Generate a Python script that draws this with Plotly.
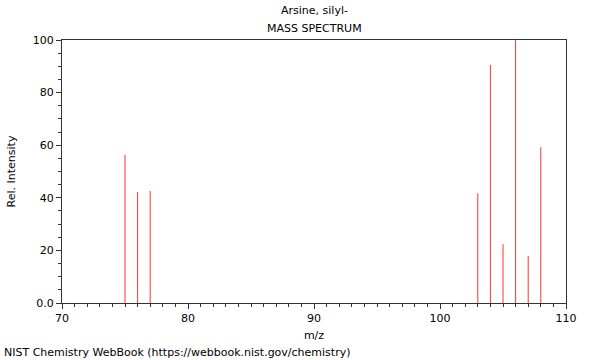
import plotly.graph_objects as go

mz = [75, 76, 77, 103, 104, 105, 106, 107, 108]
intensity = [56.3, 42.2, 42.6, 41.7, 90.5, 22.4, 100, 17.9, 59.2]

xs, ys = [], []
for m, v in zip(mz, intensity):
    xs += [m, m, None]
    ys += [0, v, None]

fig = go.Figure()
fig.add_trace(go.Scatter(x=xs, y=ys, mode="lines",
                         line=dict(color="#ff3333", width=1),
                         hoverinfo="skip", showlegend=False))

font = dict(family="DejaVu Sans", size=11, color="#000")
axcol = "#333333"
fig.update_layout(
    width=600, height=360,
    margin=dict(l=62, r=34, t=40, b=57),
    paper_bgcolor="white", plot_bgcolor="white",
    font=font,
    showlegend=False,
    xaxis=dict(range=[70, 110], tickvals=[70, 80, 90, 100, 110],
               showgrid=False, zeroline=False, showline=True, linecolor=axcol,
               linewidth=1, mirror=True, ticks="outside", ticklen=5,
               tickcolor=axcol,
               minor=dict(dtick=1, ticks="outside", ticklen=3, tickcolor=axcol, showgrid=False),
               title=dict(text="m/z", font=font, standoff=7)),
    yaxis=dict(range=[0, 100], tickvals=[0, 20, 40, 60, 80, 100],
               ticktext=["0.0", "20", "40", "60", "80", "100"],
               showgrid=False, zeroline=False, showline=True, linecolor=axcol,
               linewidth=1, mirror=True, ticks="outside", ticklen=5,
               tickcolor=axcol,
               minor=dict(dtick=5, ticks="outside", ticklen=3, tickcolor=axcol, showgrid=False),
               title=dict(text="Rel. Intensity", font=font, standoff=14)),
    annotations=[
        dict(text="Arsine, silyl-", x=0.5, y=1, xref="paper", yref="paper",
             xanchor="center", yanchor="bottom", yshift=21, showarrow=False, font=font),
        dict(text="MASS SPECTRUM", x=0.5, y=1, xref="paper", yref="paper",
             xanchor="center", yanchor="bottom", yshift=3, showarrow=False, font=font),
        dict(text="NIST Chemistry WebBook (https://webbook.nist.gov/chemistry)",
             x=0, y=0, xref="paper", yref="paper", xanchor="left", yanchor="top",
             xshift=-60, yshift=-41, showarrow=False, font=font),
    ],
)

fig.write_html("out.html")
